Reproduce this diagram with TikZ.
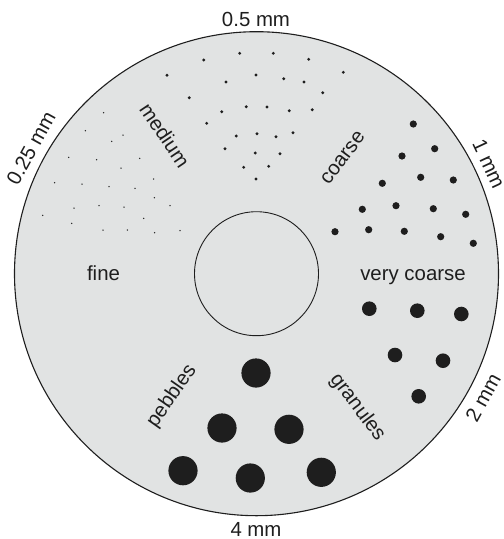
\documentclass[tikz,border=0pt]{standalone}
\usepackage{fontspec}
\setmainfont{Liberation Sans}
\definecolor{disc}{RGB}{225,227,227}
\definecolor{ink}{RGB}{30,30,30}
\begin{document}
\begin{tikzpicture}[x=1pt,y=-1pt,
  lbl/.style={inner sep=0pt,font=\fontsize{20.4}{24}\selectfont,text=ink},
  finedot/.style={fill=ink,draw=none},
]
\useasboundingbox (0,0) rectangle (504,539);
\coordinate (C) at (256.5,273.7);
\fill[disc] (C) circle[radius=242pt];
\draw[ink,line width=1.1pt] (C) circle[radius=242pt];
\draw[ink,line width=0.9pt] (C) circle[radius=62pt];

% fine
\foreach \p in {(103.7,112.7),(85.3,130.7),(123,135),(111.7,141.3),(68.7,157.3),(96.7,159.7),(139.7,158.3),(121,168),(54.7,182.7),(82,184),(109,186.7),(135,188.3),(153.7,179),(154.3,197.7),(42.7,215.3),(74,208),(99,205.7),(124,207),(170,205.7),(71.7,223.3),(143.7,218.3),(103,230),(127.3,230),(154.7,232.7),(180,230.7)}
  \fill[finedot] \p circle[radius=0.75pt];
% medium
\foreach \p in {(239.7,53.3),(273.3,53.3),(203.7,60),(308.7,59.3),(167,75.3),(343.3,72.3),(226,82),(256,75),(283.7,78.7),(304,82),(322.7,92.7),(189.3,97.7),(221.7,111.7),(246.3,106.7),(267,107),(289.3,110.7),(312.3,109.7),(206.7,123.3),(236.3,136),(257,133.7),(276,136.7),(293,132.7),(225,148.7),(255.3,153),(280,153.7),(243.7,167.3),(268.7,166.3),(256,179)}
  \fill[finedot] \p circle[radius=1.6pt];
% coarse
\foreach \p in {(413.3,124),(434.7,148.7),(402,156),(382.3,183.3),(420.7,177.3),(453.3,180),(362.3,209.3),(396,205.7),(433.3,208.7),(465.7,214.3),(335,231.7),(368.7,229.7),(404.3,231.3),(440.7,236.7),(473.3,243.3)}
  \fill[finedot] \p circle[radius=3.6pt];
% very coarse
\foreach \p in {(369.3,308.7),(417.3,310.7),(461.3,314),(395,355),(443,360.7),(418.7,396.3)}
  \fill[finedot] \p circle[radius=7.3pt];
% pebbles
\foreach \p in {(256,373),(222,428),(289,429.3),(183,470.7),(250.3,478),(321.3,472.3)}
  \fill[finedot] \p circle[radius=14.6pt];

% class labels
\node[lbl,anchor=base] (fine) at (103.5,280) {fine};
\node[lbl,anchor=base] (vcoarse) at (413,280) {very coarse};
\node[lbl,rotate=-56] (medium) at (165,135) {medium};
\node[lbl,rotate=53] (coarse) at (343,158) {coarse};
\node[lbl,rotate=55] (pebbles) at (172,396) {pebbles};
\node[lbl,rotate=-53] (granules) at (357.5,407.5) {granules};

% size labels
\node[lbl,anchor=base] (s05) at (256,26) {0.5 mm};
\node[lbl,anchor=base] (s4) at (256,536.5) {4 mm};
\node[lbl,rotate=61] (s025) at (31,148) {0.25 mm};
\node[lbl,rotate=-65] (s1) at (489,164) {1 mm};
\node[lbl,rotate=61] (s2) at (483,397.5) {2 mm};
\end{tikzpicture}
\end{document}
